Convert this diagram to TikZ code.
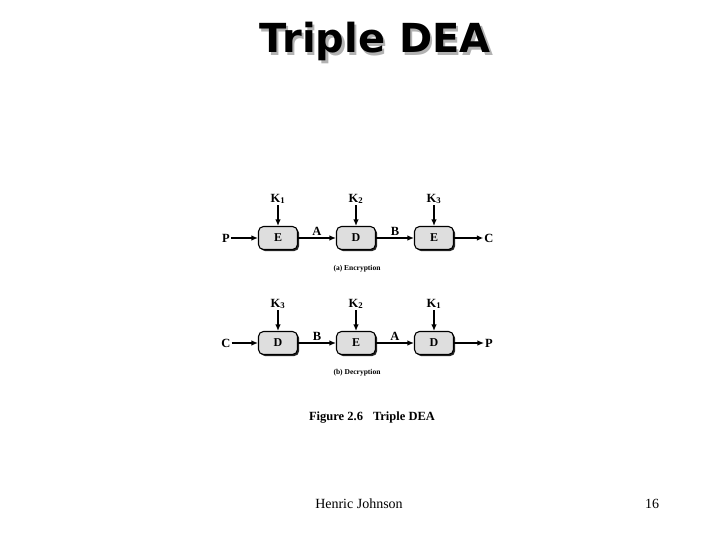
\documentclass[tikz,border=0pt]{standalone}
\usepackage{fontspec}
\setmainfont{Liberation Serif}
\newfontfamily\titlefont{DejaVu Sans}
\usetikzlibrary{arrows.meta,shadows}
\begin{document}
\begin{tikzpicture}[x=1pt,y=-1pt,
  cipher/.style={draw, line width=1.1pt, rounded corners=5pt, fill=black!13,
    minimum width=39pt, minimum height=23pt, inner sep=0pt,
    font=\bfseries\fontsize{12}{13}\selectfont,
    drop shadow={shadow xshift=1.6pt, shadow yshift=-1.6pt, fill=black!85, opacity=1}},
  lbl/.style={font=\bfseries\fontsize{12.5}{13}\selectfont, inner sep=1pt},
  captext/.style={font=\bfseries\fontsize{7.5}{8}\selectfont, inner sep=0pt},
  flow/.style={-{Latex[length=6.5pt,width=5.5pt]}, line width=1.2pt},
]
\useasboundingbox (0,0) rectangle (720,540);

% title with shadow
\node[font=\titlefont\bfseries\fontsize{40}{48}\selectfont] (title) at (375,43)
  {\rlap{\kern2.5pt\raisebox{-2.5pt}{\color{black!30}Triple DEA}}Triple DEA};

% (a) encryption
\node[cipher] (e1) at (278,238) {E};
\node[cipher] (d2) at (356,238) {D};
\node[cipher] (e3) at (434,238) {E};
\node[lbl] (pin) at (226,238) {P};
\node[lbl] (cout) at (489,238) {C};
\node[lbl] (ka1) at (278,199) {K\textsubscript{1}};
\node[lbl] (ka2) at (356,199) {K\textsubscript{2}};
\node[lbl] (ka3) at (434,199) {K\textsubscript{3}};
\draw[flow] (pin) -- (e1);
\draw[flow] (e1) -- node[lbl, above=1pt] (la) {A} (d2);
\draw[flow] (d2) -- node[lbl, above=1pt] (lb) {B} (e3);
\draw[flow] (e3) -- (cout);
\draw[flow] (ka1) -- (e1);
\draw[flow] (ka2) -- (d2);
\draw[flow] (ka3) -- (e3);
\node[captext] (capa) at (357,269) {(a) Encryption};

% (b) decryption
\node[cipher] (d1) at (278,343) {D};
\node[cipher] (e2) at (356,343) {E};
\node[cipher] (d3) at (434,343) {D};
\node[lbl] (cin) at (226,343) {C};
\node[lbl] (pout) at (489,343) {P};
\node[lbl] (kb3) at (278,304) {K\textsubscript{3}};
\node[lbl] (kb2) at (356,304) {K\textsubscript{2}};
\node[lbl] (kb1) at (434,304) {K\textsubscript{1}};
\draw[flow] (cin) -- (d1);
\draw[flow] (d1) -- node[lbl, above=1pt] (lb2) {B} (e2);
\draw[flow] (e2) -- node[lbl, above=1pt] (la2) {A} (d3);
\draw[flow] (d3) -- (pout);
\draw[flow] (kb3) -- (d1);
\draw[flow] (kb2) -- (e2);
\draw[flow] (kb1) -- (d3);
\node[captext] (capb) at (357,373) {(b) Decryption};

\node[font=\bfseries\fontsize{12.5}{14}\selectfont] (fig) at (372,418) {Figure 2.6\hspace{0.8em}Triple DEA};

% footer
\node[font=\fontsize{14}{16}\selectfont] (author) at (359,504) {Henric Johnson};
\node[font=\fontsize{14}{16}\selectfont] (page) at (652,504) {16};
\end{tikzpicture}
\end{document}
